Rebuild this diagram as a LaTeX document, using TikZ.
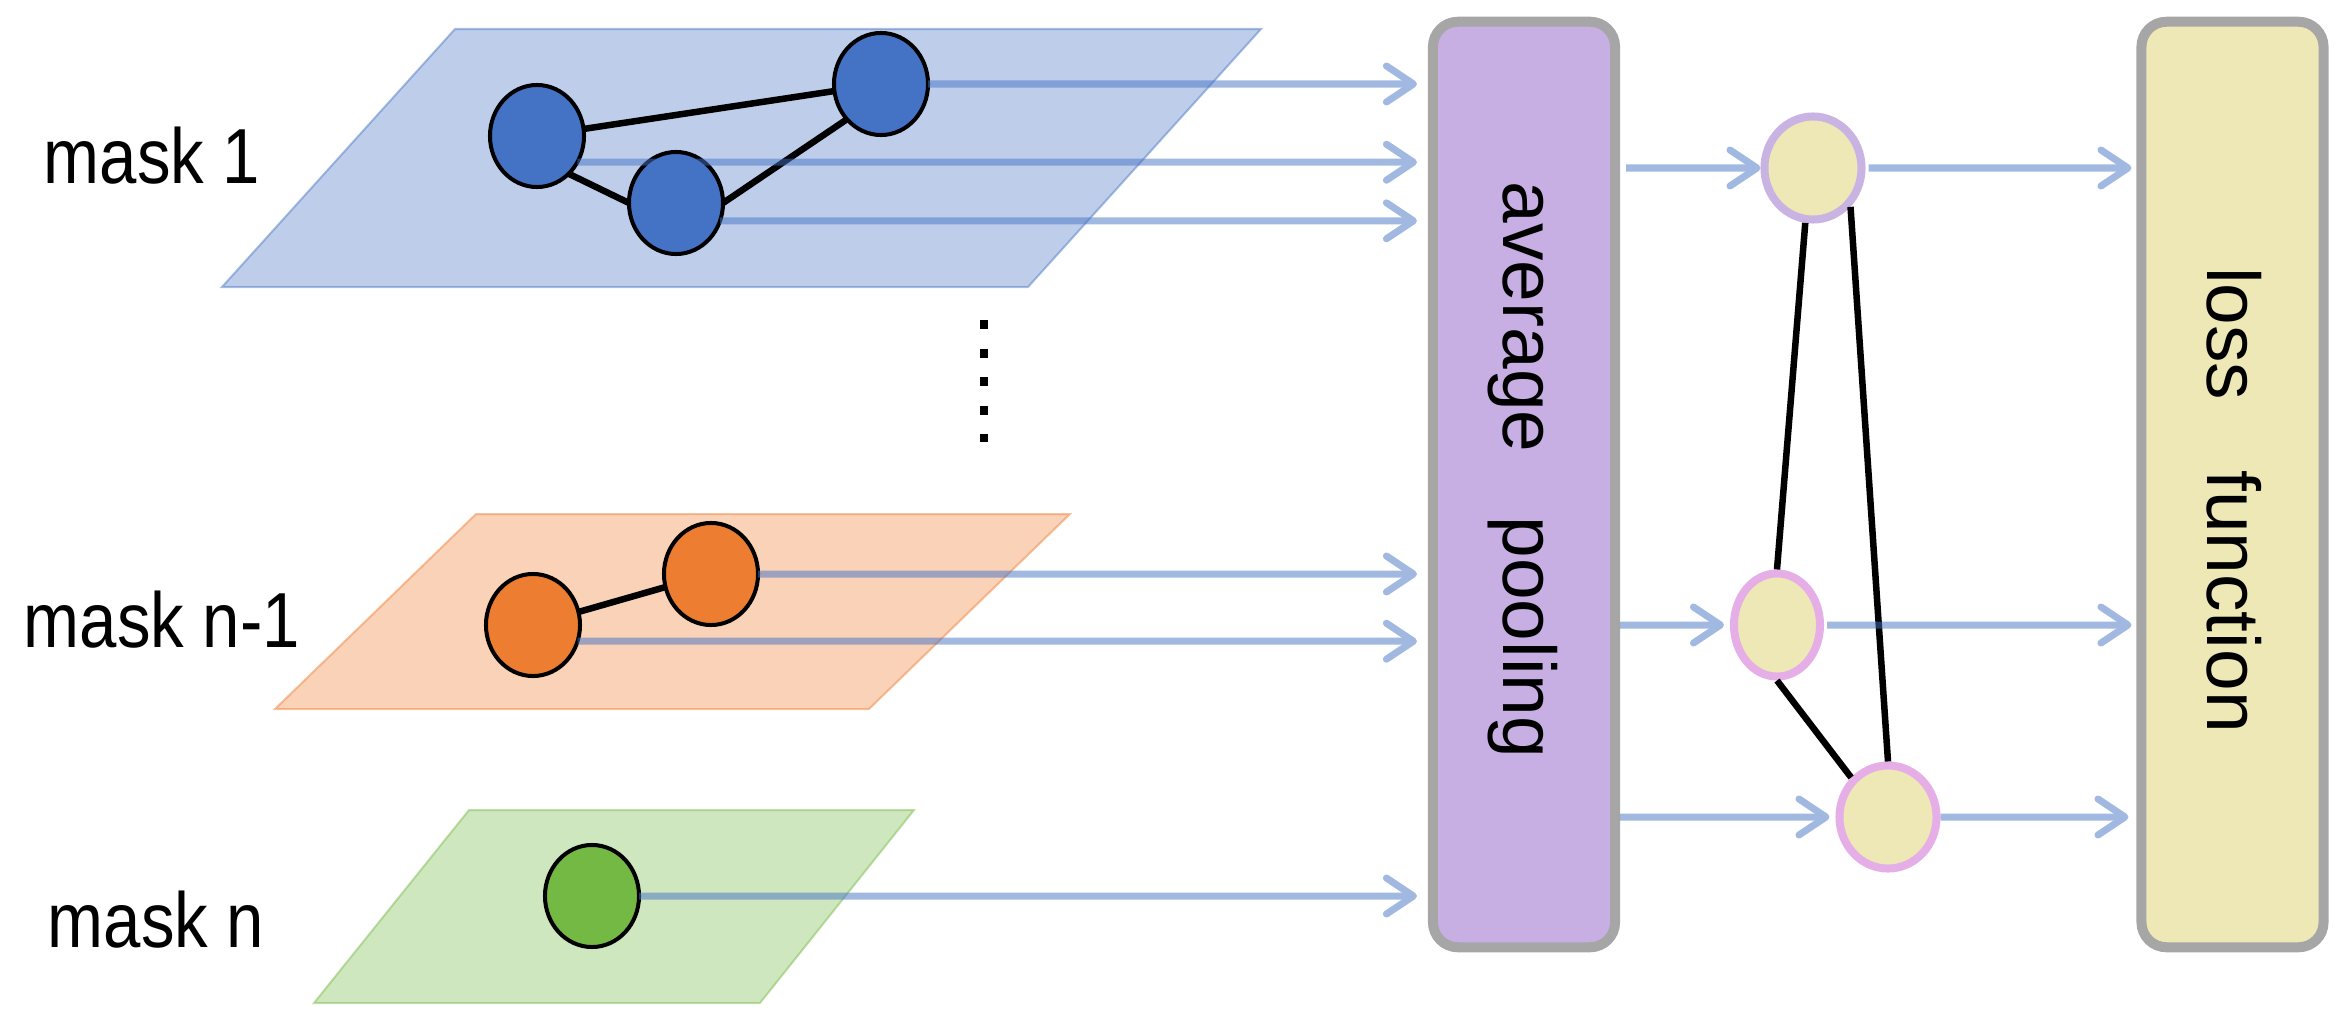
\documentclass[tikz,border=0pt]{standalone}
\usepackage{fontspec}
\setmainfont{Liberation Sans}
\usepackage{tkz-graph}
\usetikzlibrary{arrows.meta,shapes.geometric}

\definecolor{nodeblue}{HTML}{4472C4}
\definecolor{nodeorange}{HTML}{ED7D31}
\definecolor{nodegreen}{HTML}{74B944}
\definecolor{poolfill}{HTML}{C8AFE3}
\definecolor{lossfill}{HTML}{EDE8B6}
\definecolor{boxgray}{HTML}{A6A6A6}
\definecolor{ringlav}{HTML}{C9B3E2}
\definecolor{ringpink}{HTML}{E5AEE6}

\tikzset{
    plane/.style={fill=#1, fill opacity=0.35, draw=#1, draw opacity=0.45, line width=0.02cm},
    stage/.style={draw=boxgray, line width=0.1cm, rounded corners=0.25cm, minimum width=1.82cm, minimum height=9.25cm},
    stagetext/.style={rotate=-90, anchor=base, inner sep=0pt, font=\fontsize{21.3}{25}\selectfont},
    masklabel/.style={anchor=base, inner sep=0pt, font=\fontsize{22.2}{26}\selectfont},
    flow/.style={draw=nodeblue, line width=0.07cm, -{Straight Barb[length=0.27cm, width=0.36cm, round]}},
    pooled/.style={ellipse, draw=#1, line width=0.08cm, fill=lossfill, minimum width=0.97cm, minimum height=1.03cm, inner sep=0pt}
}

\begin{document}
\begin{tikzpicture}[x=0.01cm, y=-0.01cm]
    \useasboundingbox (0,0) rectangle (2347,1027);
    \GraphInit[vstyle=Normal]\SetVertexNoLabel
    \SetUpEdge[lw=0.065cm, color=black]

    \draw[plane=nodeblue] (455,29) -- (1261,29) -- (1028,287) -- (222,287) -- cycle;
    \draw[plane=nodeorange] (476,514) -- (1070,514) -- (869,709) -- (275,709) -- cycle;
    \draw[plane=nodegreen] (469,810) -- (914,810) -- (760,1003) -- (314,1003) -- cycle;

    \node[masklabel] (mask1) at (152,183) {\scalebox{0.86}[1]{mask 1}};
    \node[masklabel] (maskprev) at (162,647) {\scalebox{0.86}[1]{mask n-1}};
    \node[masklabel] (maskn) at (156,947) {\scalebox{0.86}[1]{mask n}};
    \draw[line width=0.075cm, dash pattern=on 0.09cm off 0.195cm] (984,320) -- (984,442);

    \node[stage, fill=poolfill] (pool) at (1524,484.5) {};
    \node[stage, fill=lossfill] (loss) at (2232.5,484.5) {};
    \node[stagetext] (pooltext) at (1503,470) {average\hspace{0.64cm}pooling};
    \node[stagetext] (losstext) at (2207,500) {loss\hspace{0.7cm}function};

    \tikzset{VertexStyle/.style={ellipse, draw, line width=0.04cm, minimum width=0.94cm,
        minimum height=1.02cm, inner sep=0pt, fill=nodeblue}}
    \Vertex[x=537,y=136]{A}
    \Vertex[x=881,y=84]{B}
    \Vertex[x=676,y=203]{C}
    \tikzset{VertexStyle/.append style={fill=nodeorange}}
    \Vertex[x=533,y=625]{D}
    \Vertex[x=711,y=574]{E}
    \tikzset{VertexStyle/.append style={fill=nodegreen}}
    \Vertex[x=592,y=896]{F}

    \node[pooled=ringlav] (P) at (1813,168) {};
    \node[pooled=ringpink, minimum width=0.86cm] (Q) at (1777,625) {};
    \node[pooled=ringpink] (R) at (1888,817) {};

    \Edges(A, B)
    \Edges(D, E)
    \draw[line width=0.065cm] (A.-50) -- (C.west) (C.east) -- (B.-134);
    \draw[line width=0.065cm] (P.-98) -- (Q.north) (Q.south) -- (R.133) (P.-46) -- (R.north);

    \begin{scope}[transparency group, opacity=0.5]
        \draw[flow, shorten >=0.11cm] (B.east) -- (B.east -| pool.west);
        \draw[flow, shorten >=0.11cm] (A.-33) -- (A.-33 -| pool.west);
        \draw[flow, shorten >=0.11cm] (C.-22) -- (C.-22 -| pool.west);
        \draw[flow, shorten >=0.11cm] (E.east) -- (E.east -| pool.west);
        \draw[flow, shorten >=0.11cm] (D.-20) -- (D.-20 -| pool.west);
        \draw[flow, shorten >=0.11cm] (F.east) -- (F.east -| pool.west);
        \draw[flow, shorten <=0.06cm] (pool.east |- P.west) -- (P.west);
        \draw[flow, shorten >=0.06cm] (pool.east |- Q.west) -- (Q.west);
        \draw[flow, shorten >=0.06cm] (pool.east |- R.west) -- (R.west);
        \draw[flow, shorten <=0.03cm, shorten >=0.05cm] (P.east) -- (P.east -| loss.west);
        \draw[flow, shorten <=0.03cm, shorten >=0.05cm] (Q.east) -- (Q.east -| loss.west);
        \draw[flow, shorten >=0.08cm] (R.east) -- (R.east -| loss.west);
    \end{scope}
\end{tikzpicture}
\end{document}
